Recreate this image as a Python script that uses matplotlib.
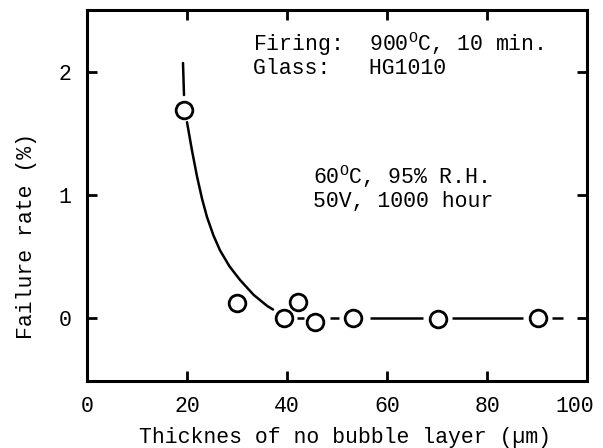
import matplotlib
matplotlib.use("Agg")
import matplotlib.pyplot as plt
from matplotlib.transforms import ScaledTranslation

plt.rcParams['font.family'] = ['Liberation Mono', 'DejaVu Sans Mono']
plt.rcParams['mathtext.fontset'] = 'custom'
plt.rcParams['mathtext.rm'] = 'Liberation Mono'
plt.rcParams['mathtext.it'] = 'Liberation Mono'

# measured points
thickness = [19.4, 30.0, 39.4, 42.2, 45.6, 53.2, 70.2, 90.2]
failure = [1.69, 0.12, 0.0, 0.13, -0.03, 0.0, -0.01, 0.0]

# hand-drawn guide curve
stub_x = [19.2, 19.4]
stub_y = [2.07, 1.81]
curve_x = [20.0, 21.0, 22.0, 23.0, 24.0, 25.3, 26.6, 28.5, 30.6, 33.3, 36.0, 37.2]
curve_y = [1.59, 1.36, 1.15, 0.97, 0.82, 0.67, 0.55, 0.42, 0.31, 0.19, 0.10, 0.07]

# baseline segments at 0 % (start, end)
base_start = [42.0, 48.6, 56.6, 73.0, 93.0]
base_end = [43.4, 50.4, 67.2, 87.2, 95.2]
base_level = 0.0

xticks = [0, 20, 40, 60, 80, 100]
yticks = [0, 1, 2]

notes = [
    (253, 44, 'Firing:  900$^{\\mathrm{O}}$C, 10 min.'),
    (253, 68, 'Glass:   HG1010'),
    (313, 177, '60$^{\\mathrm{O}}$C, 95% R.H.'),
    (313, 201, '50V, 1000 hour'),
]

W, H = 603, 448
FS = 15.5

fig = plt.figure(figsize=(W / 100, H / 100), dpi=100)
ax = fig.add_axes([87 / W, 67 / H, 500 / W, 371 / H])

ax.plot(stub_x, stub_y, color='black', lw=1.8, solid_capstyle='round')
ax.plot(curve_x, curve_y, color='black', lw=1.8, solid_capstyle='round')
ax.hlines([base_level] * len(base_start), base_start, base_end, color='black', lw=1.8)
ax.plot(thickness, failure, linestyle='none', marker='o', markersize=12,
        markerfacecolor='white', markeredgecolor='black', markeredgewidth=2, zorder=5)

ax.set_xlim(0, 100)
ax.set_ylim(-0.51, 2.5)
ax.set_xticks(xticks)
ax.set_yticks(yticks)
ax.tick_params(direction='in', length=7, width=2, top=True, right=True,
               labelsize=FS, pad=11)
for s in ax.spines.values():
    s.set_linewidth(2.2)

# the last x tick label sits a little left of its tick in the reference
last = ax.get_xticklabels()[-1]
last.set_transform(last.get_transform() + ScaledTranslation(-12 / 100, 0, fig.dpi_scale_trans))

ax.set_xlabel('Thicknes of no bubble layer (µm)', fontsize=FS)
ax.xaxis.set_label_coords(0.516, -0.125)
ax.set_ylabel('Failure rate (%)', fontsize=FS)
ax.yaxis.set_label_coords(-0.10, 0.39)

for px, py, s in notes:
    fig.text(px / W, 1 - py / H, s, fontsize=FS, va='center', ha='left')

fig.savefig('out.png', dpi=100)
